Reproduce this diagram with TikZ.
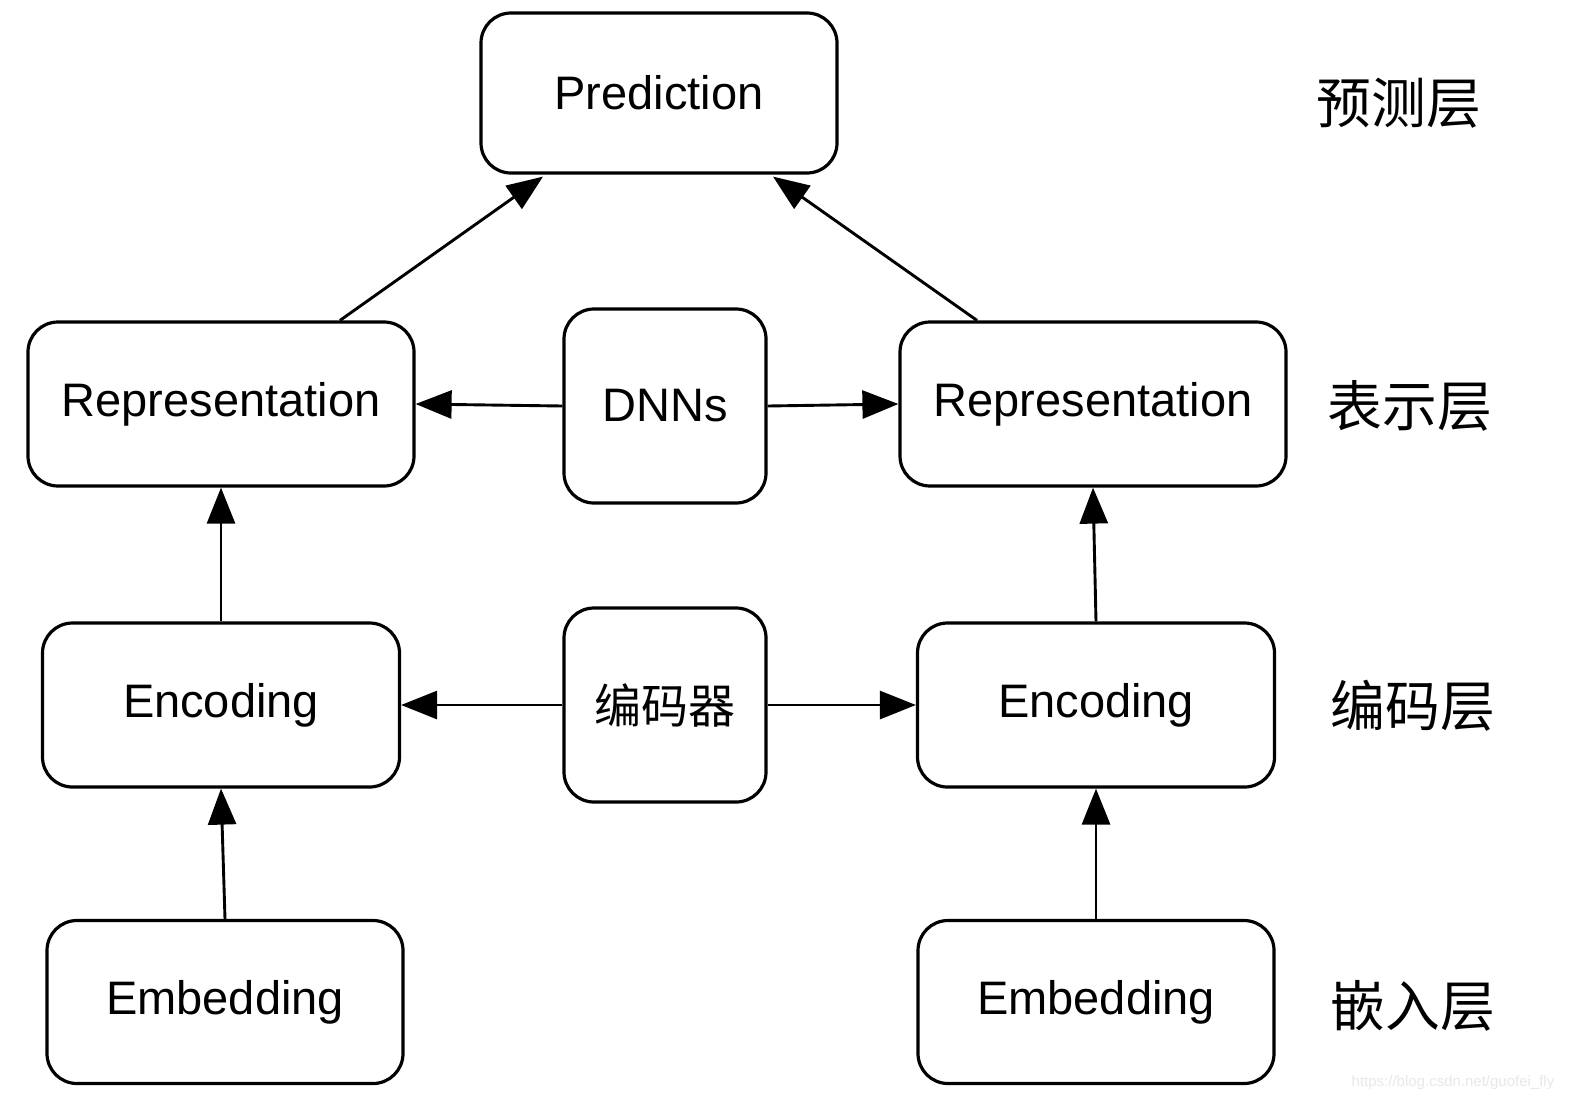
\documentclass[tikz,border=0pt]{standalone}
\usepackage{fontspec}
\setmainfont{Liberation Sans}
\newfontfamily\cjk{Noto Sans CJK SC}
\usetikzlibrary{arrows.meta}
\begin{document}
\begin{tikzpicture}[x=0.5pt,y=-0.5pt,
  box/.style={draw=black,line width=1.6pt,rounded corners=15pt,fill=white,inner sep=0pt,font=\fontsize{23.5}{28}\selectfont},
  arr/.style={line width=1.45pt,-{Triangle[length=18pt,width=14pt]}},
  lbl/.style={font=\cjk\fontsize{27.4}{32}\selectfont,inner sep=0pt}]
\useasboundingbox[fill=white] (0,0) rectangle (1578,1108);
\node[box,minimum width=178pt,minimum height=80pt] (pred) at (659,93) {Prediction};
\node[box,minimum width=193pt,minimum height=82pt] (repL) at (221,404) {Representation};
\node[box,minimum width=101pt,minimum height=97pt] (dnn) at (665,406) {DNNs};
\node[box,minimum width=193pt,minimum height=82pt] (repR) at (1093,404) {Representation};
\node[box,minimum width=178.5pt,minimum height=82pt] (encL) at (221,705) {Encoding};
\node[box,minimum width=101pt,minimum height=97pt,font=\cjk\fontsize{23.5}{28}\selectfont] (enc) at (665,705) {编码器};
\node[box,minimum width=178.5pt,minimum height=82pt] (encR) at (1096,705) {Encoding};
\node[box,minimum width=178pt,minimum height=81.5pt] (embL) at (225,1002) {Embedding};
\node[box,minimum width=178pt,minimum height=81.5pt] (embR) at (1096,1002) {Embedding};
\node[lbl] (l1) at (1399,103) {预测层};
\node[lbl] (l2) at (1410,406) {表示层};
\node[lbl] (l3) at (1413,706) {编码层};
\node[lbl] (l4) at (1413,1006) {嵌入层};
\node[font=\fontsize{7.5}{9}\selectfont,text=black!9,inner sep=0pt] (wm) at (1453,1083) {https://blog.csdn.net/guofei\_fly};
\draw[arr] ([xshift=59.5pt]repL.north) -- ([xshift=-58pt,yshift=-1pt]pred.south);
\draw[arr] ([xshift=-58pt]repR.north) -- ([xshift=57pt,yshift=-1pt]pred.south);
\draw[arr] (dnn.west) -- (repL.east);
\draw[arr] (dnn.east) -- (repR.west);
\draw[arr] (enc.west) -- (encL.east);
\draw[arr] (enc.east) -- (encR.west);
\draw[arr] (encL.north) -- (repL.south);
\draw[arr] (encR.north) -- (repR.south);
\draw[arr] (embL.north) -- (encL.south);
\draw[arr] (embR.north) -- (encR.south);
\end{tikzpicture}
\end{document}
